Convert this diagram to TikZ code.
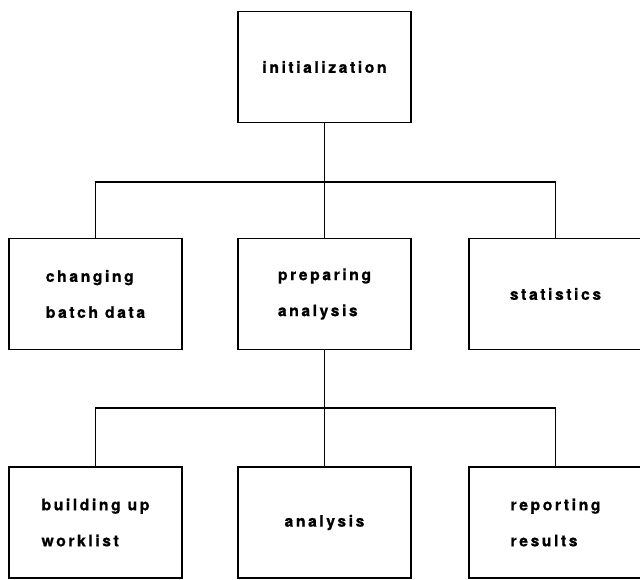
\documentclass[tikz,border=0pt]{standalone}
\usepackage{fontspec}
\newfontfamily\boxfont{TeX Gyre Heros}[UprightFont={* Bold},LetterSpace=16,FakeBold=0.8]

\begin{document}
\begin{tikzpicture}[x=1pt,y=1pt,line width=1.5pt]

\useasboundingbox (-324.5,67) rectangle (315.5,-513);

\begin{scope}[every node/.style={draw,shape=rectangle,minimum width=173pt,minimum height=111pt,align=left,font={\boxfont\fontsize{15.8}{36}\selectfont}}]
    \path (0,0) node (init) {initialization};
    \path (init) +(0,-227) node (prep) {preparing\\analysis};
    \path (prep) +(-229,0) node (batch) {changing\\batch data};
    \path (prep) +(231,0) node (stats) {statistics};
    \path (prep) +(0,-228.5) node (anal) {analysis};
    \path (anal) +(-229,0) node (build) {building up\\worklist};
    \path (anal) +(231,0) node (report) {reporting\\results};
\end{scope}

\path (init) +(0,-115) coordinate (topbus);
\path (prep) +(0,-114) coordinate (lowbus);


\draw (init) -- (topbus);
\draw (batch) |- (topbus) -| (stats);
\draw (topbus) -- (prep);

\draw (prep) -- (lowbus);
\draw (build) |- (lowbus) -| (report);
\draw (lowbus) -- (anal);

\end{tikzpicture}
\end{document}
